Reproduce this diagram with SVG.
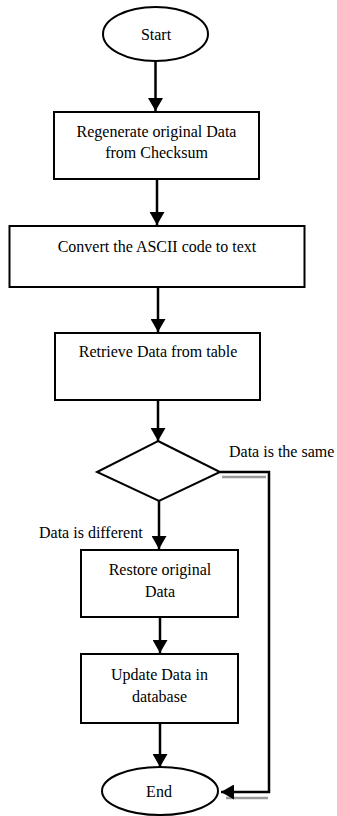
<svg xmlns="http://www.w3.org/2000/svg" width="337" height="816" viewBox="0 0 337 816">
<defs>
<style>
.n{fill:#fff;stroke:#000;stroke-width:2}
.t{font-family:'Liberation Serif','Times New Roman',Times,'DejaVu Serif',serif;font-size:16px;fill:#000;text-anchor:middle}
.l{font-family:'Liberation Serif','Times New Roman',Times,'DejaVu Serif',serif;font-size:16px;fill:#000}
.c{fill:none;stroke:#000;stroke-width:2.5}
.g{fill:none;stroke:#9a9a9a;stroke-width:2.5}
</style>
<marker id="ah" markerWidth="6" markerHeight="6" refX="5.2" refY="3" orient="auto" markerUnits="strokeWidth">
<path d="M0,0 L5.2,3 L0,6 Z" fill="#000"/>
</marker>
</defs>
<rect width="337" height="816" fill="#fff"/>
<g id="connectors">
<line class="c" x1="155.5" y1="61" x2="155.5" y2="111" marker-end="url(#ah)"/>
<line class="c" x1="157" y1="179" x2="157" y2="225" marker-end="url(#ah)"/>
<line class="c" x1="158" y1="287" x2="158" y2="332" marker-end="url(#ah)"/>
<line class="c" x1="158" y1="400" x2="158" y2="441" marker-end="url(#ah)"/>
<line class="c" x1="159" y1="501" x2="159" y2="549" marker-end="url(#ah)"/>
<line class="c" x1="160" y1="617" x2="160" y2="653" marker-end="url(#ah)"/>
<line class="c" x1="160" y1="723" x2="160" y2="767" marker-end="url(#ah)"/>
<line class="g" x1="222" y1="477" x2="266" y2="477"/>
<line class="g" x1="226" y1="798" x2="268" y2="798"/>
<polyline class="c" points="220,472 269,472 269,792 221,792" marker-end="url(#ah)"/>
</g>
<g id="start">
<ellipse class="n" cx="155.5" cy="34" rx="52.5" ry="27"/>
<text class="t" x="156" y="40" font-family="Liberation Serif, serif">Start</text>
</g>
<g id="regenerate">
<rect class="n" x="54" y="112" width="205" height="67"/>
<text class="t" x="156.5" y="137">Regenerate original Data</text>
<text class="t" x="156.5" y="158">from Checksum</text>
</g>
<g id="convert">
<rect class="n" x="9.5" y="226" width="295" height="61"/>
<text class="t" x="157" y="252">Convert the ASCII code to text</text>
</g>
<g id="retrieve">
<rect class="n" x="55" y="333" width="205" height="67"/>
<text class="t" x="158" y="357">Retrieve Data from table</text>
</g>
<g id="decision">
<polygon class="n" points="158,441 220,472 159,501 97,472"/>
</g>
<g id="labels">
<text class="l" x="229" y="457">Data is the same</text>
<text class="l" x="39" y="538">Data is different</text>
</g>
<g id="restore">
<rect class="n" x="81" y="550" width="157" height="67"/>
<text class="t" x="160" y="575">Restore original</text>
<text class="t" x="160" y="597">Data</text>
</g>
<g id="update">
<rect class="n" x="81" y="654" width="157" height="69"/>
<text class="t" x="159.5" y="680">Update Data in</text>
<text class="t" x="159.5" y="702">database</text>
</g>
<g id="end">
<ellipse class="n" cx="160" cy="791" rx="58" ry="24"/>
<text class="t" x="159" y="797">End</text>
</g>
</svg>
